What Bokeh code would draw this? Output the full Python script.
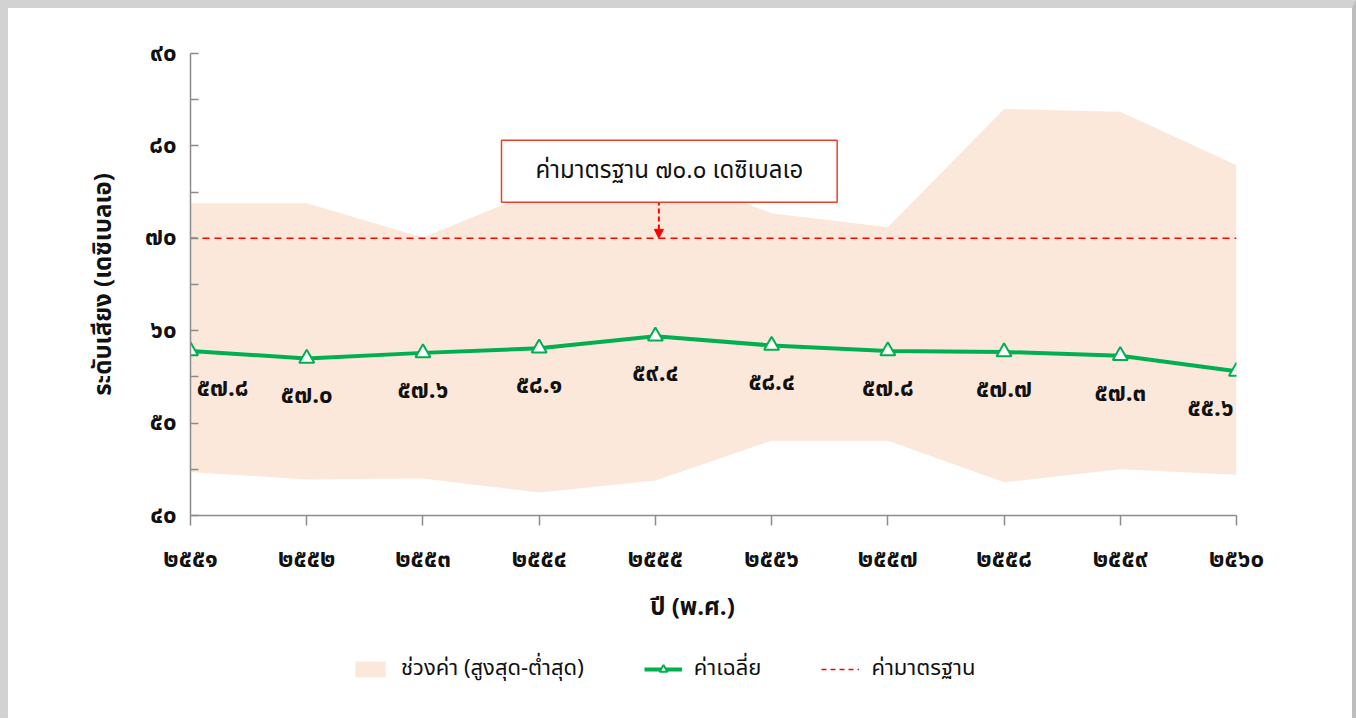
from bokeh.plotting import figure
from bokeh.layouts import column
from bokeh.models import (ColumnDataSource, Legend, LegendItem, Label, Arrow,
                          NormalHead, FixedTicker, Range1d)
from bokeh.core.properties import value
from bokeh.embed import file_html
from bokeh.resources import INLINE

# ---------------- data ----------------
years = [2551, 2552, 2553, 2554, 2555, 2556, 2557, 2558, 2559, 2560]
year_labels = ["๒๕๕๑", "๒๕๕๒", "๒๕๕๓", "๒๕๕๔", "๒๕๕๕",
               "๒๕๕๖", "๒๕๕๗", "๒๕๕๘", "๒๕๕๙", "๒๕๖๐"]
mean_vals = [57.8, 57.0, 57.6, 58.1, 59.4, 58.4, 57.8, 57.7, 57.3, 55.6]
max_vals = [73.8, 73.8, 70.1, 75.2, 77.6, 72.7, 71.2, 84.0, 83.7, 77.9]
min_vals = [44.7, 43.9, 44.0, 42.5, 43.8, 48.1, 48.1, 43.6, 45.0, 44.4]
standard = 70.0
y_ticks = [40, 50, 60, 70, 80, 90]
y_minor_ticks = [45, 55, 65, 75, 85]
y_tick_labels = ["๔๐", "๕๐", "๖๐", "๗๐", "๘๐", "๙๐"]
series_names = ["ช่วงค่า (สูงสุด-ต่ำสุด)", "ค่าเฉลี่ย", "ค่ามาตรฐาน"]
y_title = "ระดับเสียง (เดซิเบลเอ)"
x_title = "ปี (พ.ศ.)"
callout_text = "ค่ามาตรฐาน ๗๐.๐ เดซิเบลเอ"

THAI = str.maketrans("0123456789", "๐๑๒๓๔๕๖๗๘๙")
mean_labels = [f"{v:.1f}".translate(THAI) for v in mean_vals]

FONT = "Noto Sans Thai, Noto Sans"
BAND = "#FCE8DA"
GREEN = "#00B050"
RED = "#FF0000"
AXIS = "#8C8C8C"
INK = "#111111"

FRAME_W, FRAME_H = 1046, 462
BORDER_L, BORDER_R = 182, 116

n = len(years)
dx = [0] * n
dx[0] = 32
dx[-1] = -26

src = ColumnDataSource(dict(x=years, mean=mean_vals, hi=max_vals, lo=min_vals,
                            std=[standard] * n, lab=mean_labels, dx=dx))

# ---------------- main chart ----------------
fig = figure(output_backend="svg", toolbar_location=None,
             x_range=Range1d(years[0], years[-1]), y_range=Range1d(40, 90),
             frame_width=FRAME_W, frame_height=FRAME_H,
             min_border_left=BORDER_L, min_border_right=BORDER_R,
             min_border_top=45, min_border_bottom=75)
fig.outline_line_color = None
fig.grid.visible = False
fig.background_fill_color = "white"
fig.border_fill_color = "white"

fig.varea(x="x", y1="lo", y2="hi", source=src, fill_color=BAND)
fig.line(x="x", y="std", source=src, line_color=RED, line_width=1.5, line_dash="7 5")
fig.line(x="x", y="mean", source=src, line_color=GREEN, line_width=4)
fig.scatter(x="x", y="mean", source=src, marker="triangle", size=15,
            fill_color="white", line_color=GREEN, line_width=2)
fig.text(x="x", y="mean", text="lab", source=src, x_offset="dx", y_offset=38,
         text_align="center", text_baseline="middle", text_font=value(FONT),
         text_font_size="24px", text_font_style="bold", text_color=INK)

# callout
fig.add_layout(Arrow(end=NormalHead(size=9, fill_color=RED, line_color=RED),
                     x_start=years[4] + 0.03, y_start=standard + 4.1,
                     x_end=years[4] + 0.03, y_end=standard,
                     line_color=RED, line_width=2, line_dash="5 3"))
fig.add_layout(Label(x=years[4] + 0.12, y=standard + 7.25, text=callout_text,
                     text_align="center", text_baseline="middle",
                     text_font=FONT, text_font_size="24px", text_color=INK,
                     background_fill_color="white", border_line_color="#E8412C",
                     border_line_width=1.5,
                     padding=dict(left=34, right=34, top=13, bottom=13)))

# axes
xa = fig.xaxis[0]
xa.ticker = FixedTicker(ticks=years)
xa.major_label_overrides = {y: l for y, l in zip(years, year_labels)}
xa.major_tick_in = 0
xa.major_tick_out = 10
xa.minor_tick_in = 0
xa.minor_tick_out = 0
xa.major_label_standoff = 16

ya = fig.yaxis[0]
ya.ticker = FixedTicker(ticks=y_ticks, minor_ticks=y_minor_ticks)
ya.major_label_overrides = {t: l for t, l in zip(y_ticks, y_tick_labels)}
ya.major_tick_in = 8
ya.major_tick_out = 0
ya.minor_tick_in = 8
ya.minor_tick_out = 0
ya.major_label_standoff = 14
ya.axis_label = y_title
ya.axis_label_standoff = 20
ya.major_label_orientation = "horizontal"

for ax in (xa, ya):
    ax.axis_line_color = AXIS
    ax.axis_line_width = 1.5
    ax.major_tick_line_color = AXIS
    ax.minor_tick_line_color = AXIS
    ax.major_tick_line_width = 1.5
    ax.minor_tick_line_width = 1.5
    ax.major_label_text_font = FONT
    ax.major_label_text_font_size = "24px"
    ax.major_label_text_font_style = "bold"
    ax.major_label_text_color = INK
    ax.axis_label_text_font = FONT
    ax.axis_label_text_font_size = "24px"
    ax.axis_label_text_font_style = "bold"
    ax.axis_label_text_color = INK

# ---------------- x title + legend strip (same frame as the chart) ----------------
H2 = 128
leg = figure(output_backend="svg", toolbar_location=None,
             x_range=Range1d(0, FRAME_W), y_range=Range1d(H2, 0),
             frame_width=FRAME_W, frame_height=H2,
             x_axis_location=None, y_axis_location=None,
             min_border_left=BORDER_L, min_border_right=BORDER_R,
             min_border_top=0, min_border_bottom=0)
leg.outline_line_color = None
leg.grid.visible = False
leg.border_fill_color = "white"
leg.background_fill_color = "white"

# legend proxies: same data, which lies outside this strip's ranges (not visible)
r_band = leg.varea(x="x", y1="lo", y2="hi", source=src, fill_color=BAND)
r_line = leg.line(x="x", y="mean", source=src, line_color=GREEN, line_width=4)
r_pts = leg.scatter(x="x", y="mean", source=src, marker="triangle", size=15,
                    fill_color="white", line_color=GREEN, line_width=2)
r_std = leg.line(x="x", y="std", source=src, line_color=RED, line_width=1.5,
                 line_dash="5 4")

leg.add_layout(Label(x=502, y=17, text=x_title, text_align="center",
                     text_baseline="middle", text_font=FONT, text_font_size="24px",
                     text_font_style="bold", text_color=INK))

legend = Legend(items=[
    LegendItem(label=series_names[0], renderers=[r_band]),
    LegendItem(label=series_names[1], renderers=[r_line, r_pts]),
    LegendItem(label=series_names[2], renderers=[r_std]),
], orientation="horizontal", location=(161, 33),
    label_text_font=FONT, label_text_font_size="22px", label_text_color=INK,
    glyph_width=38, glyph_height=20, label_standoff=12, spacing=60,
    border_line_color=None, background_fill_alpha=0, margin=0, padding=4)
leg.add_layout(legend, "center")

p = column(fig, leg, spacing=0,
           styles={"border-top": "8px solid #d2d2d2",
                   "border-left": "8px solid #d2d2d2",
                   "border-right": "4px solid #bdbdbd",
                   "background": "white"})

open("out.html", "w").write(file_html(p, INLINE))
